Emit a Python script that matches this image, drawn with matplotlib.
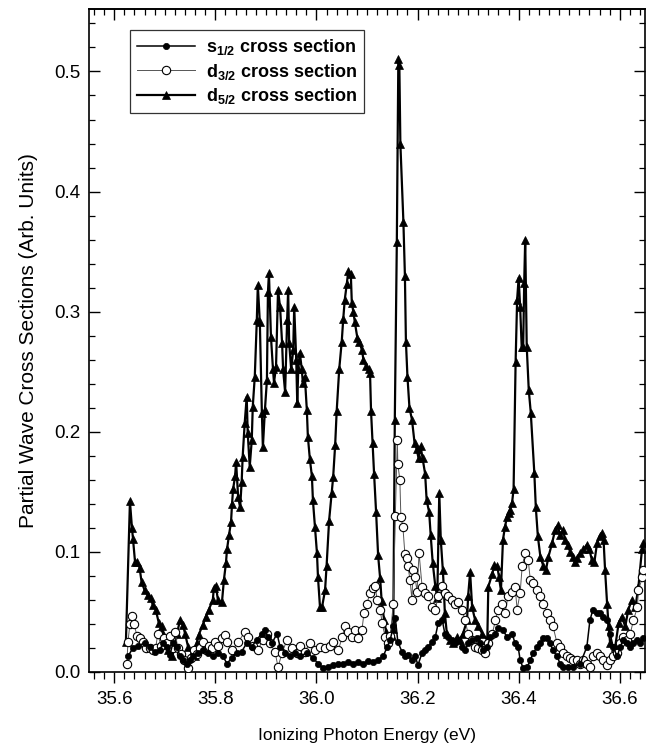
import matplotlib
matplotlib.use("Agg")
import matplotlib.pyplot as plt
from matplotlib.ticker import MultipleLocator, FormatStrFormatter

plt.rcParams['font.family'] = ['Liberation Sans', 'DejaVu Sans']
plt.rcParams['mathtext.fontset'] = 'custom'
plt.rcParams['mathtext.rm'] = 'Liberation Sans'
plt.rcParams['mathtext.bf'] = 'Liberation Sans:bold'
plt.rcParams['mathtext.it'] = 'Liberation Sans:italic'

# ---------------- data (eV, arb. units) ----------------
s12_energy = [35.627, 35.637, 35.647, 35.660, 35.670, 35.680, 35.690, 35.696, 35.704, 35.710,
              35.716, 35.724, 35.730, 35.736, 35.744, 35.750, 35.755, 35.765, 35.775, 35.785,
              35.795, 35.805, 35.815, 35.823, 35.833, 35.843, 35.852, 35.862, 35.872, 35.882,
              35.892, 35.898, 35.904, 35.912, 35.922, 35.928, 35.938, 35.948, 35.957, 35.967,
              35.981, 35.993, 36.003, 36.013, 36.023, 36.033, 36.043, 36.052, 36.062, 36.072,
              36.082, 36.092, 36.102, 36.112, 36.122, 36.132, 36.140, 36.146, 36.152, 36.156,
              36.161, 36.169, 36.175, 36.181, 36.189, 36.195, 36.201, 36.209, 36.215, 36.221,
              36.229, 36.235, 36.241, 36.249, 36.254, 36.260, 36.268, 36.274, 36.280, 36.288,
              36.294, 36.300, 36.308, 36.318, 36.324, 36.330, 36.338, 36.344, 36.354, 36.359,
              36.369, 36.377, 36.387, 36.393, 36.399, 36.403, 36.409, 36.417, 36.423, 36.429,
              36.437, 36.443, 36.449, 36.456, 36.462, 36.468, 36.476, 36.482, 36.488, 36.498,
              36.508, 36.522, 36.535, 36.541, 36.547, 36.555, 36.561, 36.567, 36.575, 36.581,
              36.587, 36.595, 36.601, 36.607, 36.615, 36.621, 36.627, 36.635, 36.640, 36.647]
s12_value = [0.013, 0.020, 0.022, 0.024, 0.021, 0.017, 0.018, 0.024, 0.021, 0.014,
             0.024, 0.021, 0.013, 0.010, 0.007, 0.010, 0.013, 0.016, 0.018, 0.016,
             0.013, 0.016, 0.013, 0.007, 0.012, 0.016, 0.017, 0.024, 0.021, 0.027,
             0.032, 0.035, 0.029, 0.024, 0.032, 0.021, 0.016, 0.013, 0.016, 0.013,
             0.016, 0.012, 0.007, 0.003, 0.004, 0.006, 0.007, 0.007, 0.008, 0.007,
             0.008, 0.007, 0.009, 0.008, 0.010, 0.013, 0.021, 0.027, 0.038, 0.045,
             0.025, 0.017, 0.013, 0.014, 0.010, 0.013, 0.006, 0.016, 0.018, 0.021,
             0.025, 0.029, 0.041, 0.043, 0.032, 0.029, 0.027, 0.024, 0.027, 0.021,
             0.018, 0.024, 0.027, 0.028, 0.024, 0.018, 0.021, 0.029, 0.032, 0.037,
             0.035, 0.029, 0.032, 0.024, 0.021, 0.010, 0.003, 0.004, 0.010, 0.016,
             0.021, 0.024, 0.028, 0.028, 0.024, 0.018, 0.013, 0.007, 0.004, 0.004,
             0.004, 0.007, 0.021, 0.043, 0.052, 0.049, 0.049, 0.046, 0.043, 0.032,
             0.021, 0.013, 0.021, 0.027, 0.024, 0.021, 0.024, 0.027, 0.024, 0.028]

d32_energy = [35.625, 35.627, 35.631, 35.635, 35.639, 35.645, 35.650, 35.656, 35.662, 35.670,
              35.676, 35.682, 35.686, 35.692, 35.698, 35.704, 35.710, 35.716, 35.720, 35.726,
              35.732, 35.738, 35.746, 35.752, 35.757, 35.763, 35.769, 35.775, 35.781, 35.787,
              35.793, 35.799, 35.805, 35.813, 35.819, 35.823, 35.833, 35.845, 35.858, 35.864,
              35.874, 35.884, 35.894, 35.902, 35.908, 35.918, 35.924, 35.932, 35.942, 35.952,
              35.961, 35.967, 35.977, 35.987, 35.997, 36.007, 36.017, 36.027, 36.033, 36.043,
              36.051, 36.056, 36.062, 36.070, 36.076, 36.082, 36.090, 36.094, 36.100, 36.106,
              36.112, 36.116, 36.120, 36.126, 36.130, 36.136, 36.142, 36.146, 36.152, 36.156,
              36.160, 36.161, 36.165, 36.167, 36.171, 36.175, 36.179, 36.181, 36.185, 36.189,
              36.191, 36.195, 36.199, 36.203, 36.209, 36.215, 36.221, 36.229, 36.235, 36.241,
              36.249, 36.254, 36.260, 36.268, 36.274, 36.280, 36.288, 36.294, 36.300, 36.308,
              36.314, 36.320, 36.328, 36.334, 36.340, 36.348, 36.354, 36.359, 36.367, 36.373,
              36.379, 36.387, 36.393, 36.397, 36.403, 36.407, 36.413, 36.419, 36.423, 36.429,
              36.437, 36.443, 36.449, 36.456, 36.462, 36.468, 36.476, 36.482, 36.488, 36.496,
              36.502, 36.508, 36.516, 36.522, 36.528, 36.535, 36.541, 36.547, 36.555, 36.561,
              36.567, 36.575, 36.581, 36.587, 36.595, 36.601, 36.607, 36.615, 36.621, 36.627,
              36.635, 36.637, 36.645, 36.647]
d32_value = [0.007, 0.025, 0.040, 0.047, 0.040, 0.030, 0.028, 0.025, 0.020, 0.020,
             0.018, 0.020, 0.032, 0.022, 0.028, 0.024, 0.030, 0.020, 0.033, 0.020,
             0.015, 0.010, 0.003, 0.012, 0.018, 0.015, 0.020, 0.025, 0.018, 0.022,
             0.020, 0.025, 0.022, 0.028, 0.031, 0.025, 0.018, 0.025, 0.033, 0.029,
             0.022, 0.018, 0.027, 0.032, 0.024, 0.017, 0.004, 0.016, 0.027, 0.020,
             0.016, 0.022, 0.017, 0.024, 0.018, 0.021, 0.020, 0.022, 0.025, 0.018,
             0.029, 0.038, 0.033, 0.029, 0.035, 0.028, 0.035, 0.049, 0.057, 0.066,
             0.070, 0.072, 0.060, 0.052, 0.041, 0.029, 0.024, 0.030, 0.057, 0.130,
             0.193, 0.173, 0.160, 0.129, 0.121, 0.098, 0.095, 0.088, 0.077, 0.060,
             0.085, 0.079, 0.067, 0.099, 0.071, 0.066, 0.063, 0.054, 0.052, 0.063,
             0.072, 0.066, 0.063, 0.060, 0.057, 0.058, 0.052, 0.043, 0.032, 0.027,
             0.021, 0.020, 0.018, 0.016, 0.024, 0.032, 0.043, 0.052, 0.057, 0.049,
             0.063, 0.067, 0.071, 0.052, 0.066, 0.088, 0.099, 0.093, 0.077, 0.074,
             0.068, 0.063, 0.057, 0.049, 0.043, 0.038, 0.024, 0.021, 0.016, 0.013,
             0.012, 0.010, 0.010, 0.007, 0.010, 0.007, 0.004, 0.013, 0.016, 0.013,
             0.010, 0.006, 0.010, 0.013, 0.016, 0.024, 0.029, 0.027, 0.032, 0.043,
             0.054, 0.068, 0.079, 0.085]

d52_energy = [35.623, 35.631, 35.635, 35.637, 35.641, 35.645, 35.650, 35.654, 35.660, 35.666,
              35.672, 35.676, 35.682, 35.688, 35.694, 35.696, 35.702, 35.706, 35.714, 35.720,
              35.724, 35.730, 35.736, 35.740, 35.746, 35.753, 35.759, 35.763, 35.767, 35.775,
              35.781, 35.787, 35.795, 35.797, 35.801, 35.805, 35.813, 35.817, 35.821, 35.823,
              35.827, 35.831, 35.833, 35.835, 35.839, 35.841, 35.845, 35.849, 35.852, 35.854,
              35.858, 35.862, 35.864, 35.868, 35.872, 35.874, 35.878, 35.882, 35.884, 35.888,
              35.892, 35.894, 35.898, 35.902, 35.904, 35.906, 35.910, 35.914, 35.916, 35.920,
              35.924, 35.928, 35.932, 35.934, 35.938, 35.942, 35.944, 35.946, 35.950, 35.954,
              35.956, 35.960, 35.962, 35.964, 35.967, 35.971, 35.973, 35.977, 35.981, 35.983,
              35.987, 35.991, 35.993, 35.997, 36.001, 36.003, 36.007, 36.011, 36.017, 36.020,
              36.025, 36.030, 36.033, 36.037, 36.040, 36.045, 36.050, 36.053, 36.056, 36.060,
              36.063, 36.068, 36.070, 36.073, 36.076, 36.081, 36.085, 36.090, 36.093, 36.098,
              36.103, 36.106, 36.108, 36.111, 36.114, 36.118, 36.122, 36.126, 36.129, 36.134,
              36.138, 36.142, 36.149, 36.152, 36.155, 36.159, 36.162, 36.164, 36.166, 36.172,
              36.175, 36.177, 36.180, 36.184, 36.189, 36.194, 36.198, 36.202, 36.206, 36.210,
              36.215, 36.218, 36.223, 36.226, 36.230, 36.235, 36.239, 36.243, 36.246, 36.250,
              36.252, 36.254, 36.258, 36.264, 36.270, 36.278, 36.284, 36.290, 36.298, 36.300,
              36.304, 36.308, 36.314, 36.320, 36.328, 36.338, 36.340, 36.348, 36.352, 36.358,
              36.361, 36.365, 36.369, 36.373, 36.377, 36.380, 36.383, 36.387, 36.390, 36.394,
              36.397, 36.400, 36.403, 36.406, 36.409, 36.411, 36.413, 36.416, 36.420, 36.424,
              36.431, 36.434, 36.438, 36.443, 36.449, 36.454, 36.459, 36.466, 36.472, 36.477,
              36.482, 36.488, 36.492, 36.497, 36.502, 36.507, 36.512, 36.516, 36.522, 36.528,
              36.535, 36.540, 36.545, 36.550, 36.555, 36.560, 36.565, 36.568, 36.571, 36.575,
              36.578, 36.581, 36.591, 36.598, 36.604, 36.611, 36.617, 36.624, 36.631, 36.637,
              36.644, 36.647]
d52_value = [0.025, 0.142, 0.120, 0.111, 0.092, 0.092, 0.087, 0.075, 0.068, 0.064,
             0.062, 0.056, 0.052, 0.041, 0.038, 0.032, 0.024, 0.018, 0.013, 0.021,
             0.032, 0.043, 0.039, 0.032, 0.021, 0.016, 0.013, 0.024, 0.031, 0.039,
             0.046, 0.052, 0.060, 0.070, 0.072, 0.060, 0.058, 0.077, 0.091, 0.102,
             0.114, 0.125, 0.140, 0.152, 0.163, 0.175, 0.146, 0.137, 0.158, 0.179,
             0.207, 0.229, 0.199, 0.171, 0.193, 0.221, 0.246, 0.293, 0.322, 0.291,
             0.216, 0.187, 0.218, 0.243, 0.316, 0.332, 0.279, 0.252, 0.241, 0.254,
             0.318, 0.304, 0.274, 0.252, 0.233, 0.293, 0.318, 0.274, 0.252, 0.268,
             0.304, 0.260, 0.224, 0.252, 0.266, 0.252, 0.241, 0.246, 0.218, 0.196,
             0.177, 0.163, 0.143, 0.121, 0.099, 0.079, 0.054, 0.054, 0.068, 0.088,
             0.126, 0.149, 0.162, 0.189, 0.217, 0.252, 0.275, 0.294, 0.310, 0.323,
             0.334, 0.331, 0.307, 0.300, 0.291, 0.278, 0.275, 0.268, 0.260, 0.255,
             0.252, 0.249, 0.217, 0.191, 0.165, 0.133, 0.097, 0.078, 0.059, 0.043,
             0.033, 0.027, 0.030, 0.036, 0.210, 0.358, 0.510, 0.505, 0.440, 0.375,
             0.330, 0.275, 0.246, 0.220, 0.210, 0.191, 0.186, 0.178, 0.188, 0.178,
             0.165, 0.143, 0.133, 0.114, 0.091, 0.072, 0.062, 0.149, 0.110, 0.085,
             0.070, 0.049, 0.032, 0.027, 0.024, 0.029, 0.027, 0.032, 0.043, 0.063,
             0.083, 0.054, 0.043, 0.038, 0.032, 0.027, 0.071, 0.082, 0.089, 0.088,
             0.079, 0.068, 0.110, 0.121, 0.129, 0.132, 0.135, 0.141, 0.152, 0.258,
             0.310, 0.328, 0.304, 0.271, 0.271, 0.324, 0.360, 0.271, 0.235, 0.216,
             0.166, 0.137, 0.113, 0.096, 0.088, 0.085, 0.096, 0.107, 0.118, 0.122,
             0.114, 0.118, 0.110, 0.106, 0.100, 0.096, 0.092, 0.095, 0.099, 0.102,
             0.106, 0.102, 0.093, 0.092, 0.107, 0.113, 0.116, 0.110, 0.085, 0.057,
             0.038, 0.024, 0.021, 0.041, 0.046, 0.038, 0.052, 0.060, 0.054, 0.071,
             0.102, 0.107]

series_labels = [r'$\mathbf{s_{1/2}}$ cross section',
                 r'$\mathbf{d_{3/2}}$ cross section',
                 r'$\mathbf{d_{5/2}}$ cross section']

x_label = 'Ionizing Photon Energy (eV)'
y_label = 'Partial Wave Cross Sections (Arb. Units)'

# ---------------- figure ----------------
fig = plt.figure(figsize=(6.49, 7.52), dpi=100)
ax = fig.add_axes([89/649, 80/752, 556/649, 663/752])

h3, = ax.plot(d52_energy, d52_value, color='black', lw=1.6, marker='^',
              ms=5.5, mfc='black', mec='black', mew=0.5, zorder=3)
h2, = ax.plot(d32_energy, d32_value, color='#555555', lw=0.7, marker='o',
              ms=6, mfc='white', mec='black', mew=0.8, zorder=4)
h1, = ax.plot(s12_energy, s12_value, color='black', lw=1.1, marker='o',
              ms=4.5, mfc='black', mec='black', mew=0.5, zorder=5)

ax.set_xlim(35.55, 36.65)
ax.set_ylim(0.0, 0.552)

ax.xaxis.set_major_locator(MultipleLocator(0.2))
ax.xaxis.set_minor_locator(MultipleLocator(0.02))
ax.yaxis.set_major_locator(MultipleLocator(0.1))
ax.yaxis.set_minor_locator(MultipleLocator(0.02))
ax.xaxis.set_major_formatter(FormatStrFormatter('%.1f'))
ax.yaxis.set_major_formatter(FormatStrFormatter('%.1f'))

ax.tick_params(axis='x', which='both', direction='out', top=False, labelsize=13.5, pad=6)
ax.tick_params(axis='x', which='major', length=8, width=1.0)
ax.tick_params(axis='x', which='minor', length=5, width=0.9)
ax.tick_params(axis='y', which='both', direction='in', right=True, labelsize=13.5, pad=6)
ax.tick_params(axis='y', which='major', length=8, width=1.0)
ax.tick_params(axis='y', which='minor', length=4, width=0.9)

top = ax.secondary_xaxis('top')
top.xaxis.set_major_locator(MultipleLocator(0.2))
top.xaxis.set_minor_locator(MultipleLocator(0.02))
top.tick_params(axis='x', which='both', direction='in', labeltop=False)
top.tick_params(axis='x', which='major', length=8, width=1.0)
top.tick_params(axis='x', which='minor', length=4, width=0.9)
top.spines['top'].set_linewidth(1.2)

for sp in ax.spines.values():
    sp.set_linewidth(1.2)

ax.set_xlabel(x_label, fontsize=12.5, labelpad=14)
ax.set_ylabel(y_label, fontsize=15, labelpad=12)

leg = ax.legend([h1, h2, h3], series_labels, loc='upper left',
                bbox_to_anchor=(0.058, 0.982), numpoints=1, handlelength=3.2,
                prop={'weight': 'bold', 'size': 13}, frameon=True, fancybox=False,
                edgecolor='black', borderpad=0.4, labelspacing=0.25, handletextpad=0.6)
leg.get_frame().set_linewidth(0.9)

fig.savefig('out.png', dpi=100)
